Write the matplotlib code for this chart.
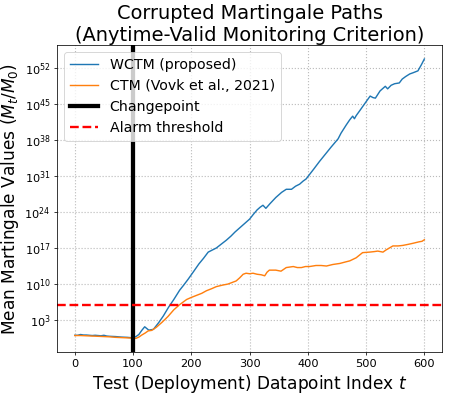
import numpy as np
import matplotlib
matplotlib.use("Agg")
import matplotlib.pyplot as plt

# WCTM (proposed): time index and log10 of mean martingale value
wctm_t = [0, 5, 10, 15, 20, 25, 30, 35, 40, 45, 50, 55, 60, 70, 80, 90, 100,
          105, 110, 115, 120, 127, 135, 144, 152, 161, 170, 180, 187, 195, 205,
          213, 221, 229, 236, 243, 252, 260, 268, 275, 285, 295, 300, 307, 313,
          318, 323, 328, 335, 345, 355, 363, 372, 379, 386, 392, 397, 410, 420,
          430, 440, 452, 457, 466, 472, 477, 480, 483, 490, 500, 507, 512, 516,
          524, 533, 537, 543, 549, 557, 562, 568, 575, 580, 589, 595, 600]
wctm_log = [0.05, 0.05, 0.2, 0.1, 0.1, 0.05, 0.0, 0.05, 0.0, -0.05, 0.05, -0.1,
            -0.15, -0.2, -0.3, -0.35, -0.45,
            -0.2, 0.2, 1.0, 1.7, 1.05, 1.2, 2.5, 3.8, 5.5, 7.0, 8.8, 9.8, 11.0,
            12.6, 13.9, 15.0, 16.2, 16.6, 17.0, 17.8, 18.5, 19.3, 20.1, 21.1,
            22.1, 22.6, 23.6, 24.4, 24.9, 25.3, 24.7, 25.6, 26.8, 27.8, 28.4,
            28.4, 29.0, 29.4, 30.0, 30.4, 32.3, 33.8, 35.2, 36.6, 38.2, 39.3,
            40.9, 41.9, 42.6, 42.1, 42.7, 43.8, 45.4, 46.5, 46.2, 46.1, 47.5,
            48.4, 47.9, 48.6, 48.9, 49.05, 49.8, 50.3, 50.8, 51.0, 51.4, 52.6,
            53.7]

# CTM (Vovk et al., 2021)
ctm_t = [0, 10, 20, 30, 40, 50, 60, 70, 80, 90, 100, 105, 110, 115, 121, 126,
         132, 140, 150, 160, 170, 180, 192, 200, 209, 218, 226, 235, 243, 254,
         263, 270, 277, 283, 289, 294, 300, 306, 313, 320, 326, 330, 334, 345,
         354, 363, 375, 382, 389, 396, 403, 414, 423, 432, 443, 455, 465, 472,
         483, 494, 506, 514, 520, 529, 534, 546, 555, 563, 572, 580, 591, 596,
         600]
ctm_log = [0.0, 0.0, -0.05, -0.1, -0.15, -0.2, -0.25, -0.35, -0.4, -0.45, -0.5,
           -0.55, -0.3, 0.1, 0.5, 0.9, 1.0, 1.6, 2.6, 3.7, 5.0, 6.0, 7.0, 7.4,
           7.8, 8.2, 8.7, 9.1, 9.5, 9.8, 10.0, 10.3, 10.6, 11.2, 11.9, 12.1,
           12.0, 12.1, 11.9, 11.8, 11.6, 12.3, 12.7, 12.7, 12.5, 13.2, 13.4,
           13.2, 13.2, 13.4, 13.4, 13.6, 13.6, 13.5, 13.8, 14.0, 14.3, 14.5,
           15.1, 16.1, 16.2, 16.3, 16.4, 16.2, 16.6, 17.4, 17.4, 17.5, 17.7,
           17.9, 18.2, 18.3, 18.6]

changepoint = 100
alarm_threshold = 1e6
xticks = [0, 100, 200, 300, 400, 500, 600]
ytick_exps = [3, 10, 17, 24, 31, 38, 45, 52]

DPI = 68
fig = plt.figure(figsize=(449 / DPI, 395 / DPI), dpi=DPI)
ax = fig.add_axes([0.1276, 0.108, 0.8564, 0.778])

ax.plot(wctm_t, 10.0 ** np.array(wctm_log), color='#1f77b4', lw=1.5,
        label='WCTM (proposed)')
ax.plot(ctm_t, 10.0 ** np.array(ctm_log), color='#ff7f0e', lw=1.5,
        label='CTM (Vovk et al., 2021)')
ax.axvline(changepoint, color='black', lw=4.5, label='Changepoint')
ax.axhline(alarm_threshold, color='red', ls='--', lw=2.5, label='Alarm threshold')

ax.set_yscale('log')
ax.set_yticks([10.0 ** e for e in ytick_exps])
ax.set_yticklabels([r'$10^{%d}$' % e for e in ytick_exps])
ax.yaxis.set_minor_locator(matplotlib.ticker.NullLocator())
ax.set_xticks(xticks)
ax.tick_params(labelsize=12)
ax.grid(True, ls=':', color='#bbbbbb', lw=1.2)

ax.set_xlabel('Test (Deployment) Datapoint Index $t$', fontsize=18)
ax.set_ylabel('Mean Martingale Values ($M_t/M_0$)', fontsize=18)
ax.set_title('Corrupted Martingale Paths\n(Anytime-Valid Monitoring Criterion)',
             fontsize=20.5, pad=3)
ax.legend(loc='upper left', fontsize=15)

fig.savefig('out.png', dpi=DPI)
